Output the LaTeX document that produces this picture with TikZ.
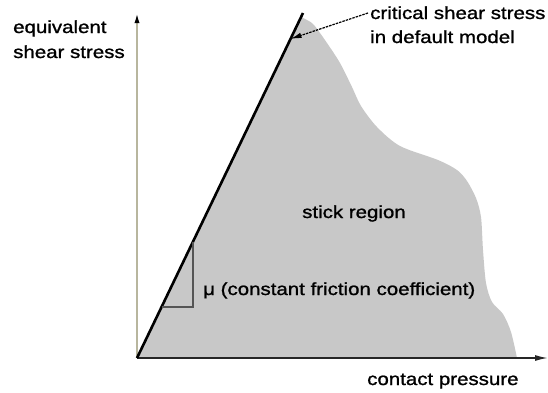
\documentclass[tikz,border=0pt]{standalone}
\usepackage{fontspec}
\newfontfamily\labfont{Liberation Sans}[FakeStretch=1.17,FakeBold=1.2]
\usetikzlibrary{arrows.meta,calc}
\definecolor{shadegray}{RGB}{200,200,200}
\definecolor{axistan}{RGB}{184,182,158}
\definecolor{legdark}{RGB}{85,85,85}
\tikzset{
  lab/.style={font=\labfont\fontsize{17.5}{24}\selectfont, inner sep=0pt, anchor=base west},
  region/.style={fill=shadegray},
  yaxis/.style={axistan, line width=2pt, -{Latex[black,length=11pt,width=5pt]}},
  xaxis/.style={black!85, line width=1.5pt, -{Latex[length=13pt,width=6pt]}},
  slopeline/.style={black, line width=2.6pt},
  slopeleg/.style={legdark, line width=1.5pt},
  leader/.style={black, line width=1.2pt, dash pattern=on 2.5pt off 1pt, -{Latex[length=11pt,width=5.5pt]}}
}
\begin{document}
\begin{tikzpicture}[x=1pt,y=-1pt]
\useasboundingbox (0,0) rectangle (548,392);
\coordinate (O) at (137,358);
\coordinate (Ytop) at (137,12);
\coordinate (Xend) at (548,358);
\coordinate (Ltop) at (303,13);
\coordinate (T1) at ($(O)!0.148!(Ltop)$);
\coordinate (T3) at ($(O)!0.336!(Ltop)$);
\coordinate (T2) at (T3 |- T1);
\coordinate (tip) at ($(O)!0.925!(Ltop)$);

\fill[region] (O) -- plot[smooth, tension=0.5] coordinates {
  (301,17) (307,20) (314,25) (327,43) (340,63) (352,87) (361,106)
  (377,127) (400,146) (438,160) (457,170) (467,181) (476,198)
  (481,217) (483,250) (486,283) (492,302) (503,314) (511,332) (517,358)} -- cycle;

\draw[yaxis] (O) -- (Ytop);
\draw[xaxis] (O) -- (Xend);
\draw[slopeline] (O) -- (Ltop);
\draw[slopeleg] (T1) -- (T2) -- (T3);

\node[lab] (ylab1) at (13,33) {equivalent};
\node[lab] (ylab2) at (13,58) {shear stress};
\node[lab] (crit1) at (370,19) {critical shear stress};
\node[lab] (crit2) at (370,43) {in default model};
\node[lab] (stick) at (302,218) {stick region};
\node[lab] (mu) at (203,295) {μ (constant friction coefficient)};
\node[lab] (xlab) at (367,385) {contact pressure};

\coordinate (leadstart) at ($(crit1.base west)+(-2,-6)$);
\draw[leader] (leadstart) -- (tip);
\end{tikzpicture}
\end{document}
